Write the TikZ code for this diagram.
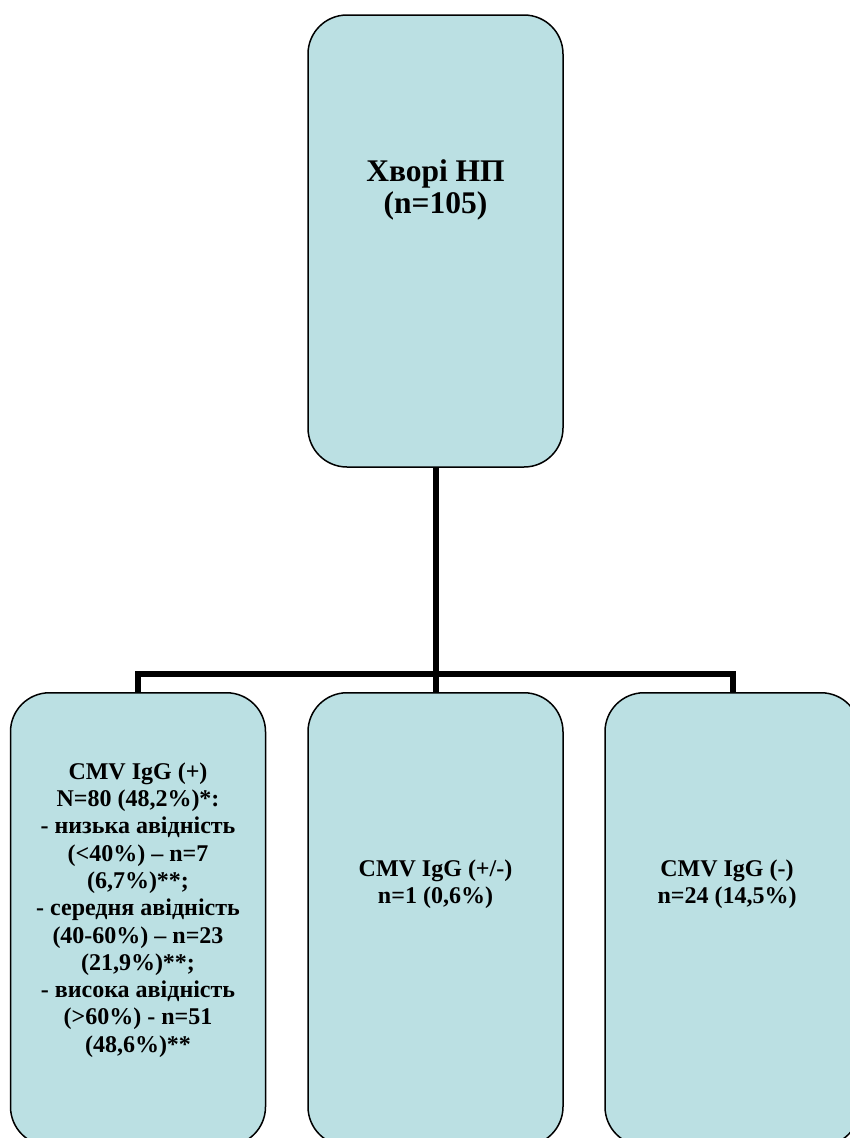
\documentclass[tikz,border=0pt]{standalone}
\usepackage{fontspec}
\setmainfont{Liberation Serif}
\usetikzlibrary{positioning}
\definecolor{boxfill}{HTML}{BBE0E3}
\tikzset{
  orgbox/.style={draw=black, line width=1.5pt, fill=boxfill, rounded corners=39pt,
    minimum width=255pt, minimum height=453pt, inner sep=0pt},
  boxtext/.style={align=center, inner sep=0pt, font=\bfseries\fontsize{24}{27.3}\selectfont},
  link/.style={line width=6pt}
}

\begin{document}
\begin{tikzpicture}[x=1pt,y=-1pt]
		%%%%% START %%%%%
		\useasboundingbox (0,0) rectangle (849,1138);
		
		% top box
		\node[orgbox, minimum height=452pt] (top) at (435.5,241) {};
		\node[boxtext, font=\bfseries\fontsize{31.5}{32}\selectfont] (toptext) at (435.5,190) {Хворі НП\\(n=105)};
		
		% bottom row
		\node[orgbox, anchor=north] (lbox) at (138,692) {};
		\node[orgbox, anchor=north] (mbox) at (435.5,692) {};
		\node[orgbox, anchor=north] (rbox) at (732.5,692) {};
		
		\node[boxtext] (ltext) at (138,910) {CMV IgG (+)\\N=80 (48,2\%)*:\\- низька авідність\\(<40\%) – n=7\\(6,7\%)**;\\- середня авідність\\(40-60\%) – n=23\\(21,9\%)**;\\- висока авідність\\(>60\%) - n=51\\(48,6\%)**};
		\node[boxtext] (mtext) at (435.5,884) {CMV IgG (+/-)\\n=1 (0,6\%)};
		\node[boxtext] (rtext) at (727,884) {CMV IgG (-)\\n=24 (14,5\%)};
		
		% links
		\coordinate (bus) at (435.5,674);
		\draw[link] (top.south) -- (mbox.north);
		\draw[link] (lbox.north) |- (bus) -| (rbox.north);
		%%%%% END %%%%%
	\end{tikzpicture}
\end{document}
